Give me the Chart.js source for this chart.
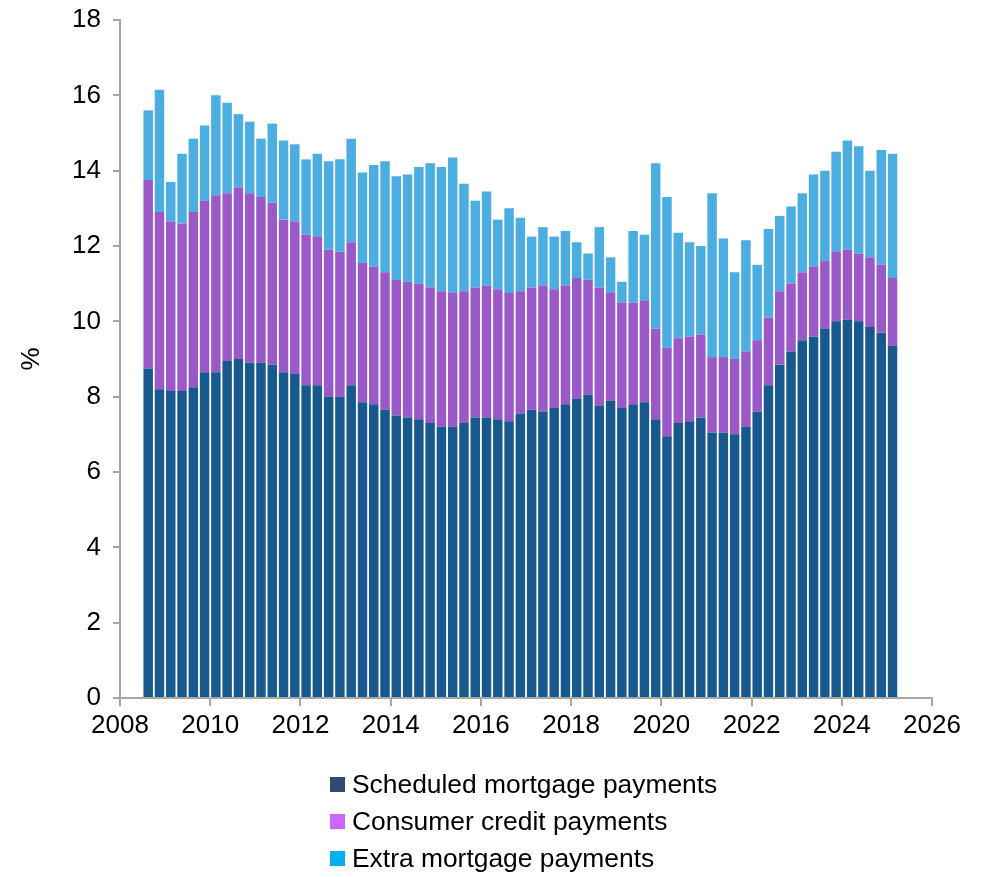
<!DOCTYPE html>
<html>
<head>
<meta charset="utf-8">
<script src="https://cdn.jsdelivr.net/npm/chart.js@4.4.1/dist/chart.umd.min.js"></script>
<style>
  body { margin: 0; background: #fff; font-family: "Liberation Sans", Arial, sans-serif; }
  #wrap { position: relative; width: 984px; height: 877px; }
  #legend { position: absolute; left: 330px; top: 766px; }
  .item { display: flex; align-items: center; height: 37px; font-size: 26.4px; color: #000; }
  .box { width: 15px; height: 15px; margin-right: 7px; }
</style>
</head>
<body>
<div id="wrap">
  <canvas id="chart" width="984" height="877"></canvas>
  <div id="legend"></div>
</div>
<script>
// quarterly, 2008 Q3 .. 2025 Q1
const quarters = [
  '2008 Q3','2008 Q4',
  '2009 Q1','2009 Q2','2009 Q3','2009 Q4',
  '2010 Q1','2010 Q2','2010 Q3','2010 Q4',
  '2011 Q1','2011 Q2','2011 Q3','2011 Q4',
  '2012 Q1','2012 Q2','2012 Q3','2012 Q4',
  '2013 Q1','2013 Q2','2013 Q3','2013 Q4',
  '2014 Q1','2014 Q2','2014 Q3','2014 Q4',
  '2015 Q1','2015 Q2','2015 Q3','2015 Q4',
  '2016 Q1','2016 Q2','2016 Q3','2016 Q4',
  '2017 Q1','2017 Q2','2017 Q3','2017 Q4',
  '2018 Q1','2018 Q2','2018 Q3','2018 Q4',
  '2019 Q1','2019 Q2','2019 Q3','2019 Q4',
  '2020 Q1','2020 Q2','2020 Q3','2020 Q4',
  '2021 Q1','2021 Q2','2021 Q3','2021 Q4',
  '2022 Q1','2022 Q2','2022 Q3','2022 Q4',
  '2023 Q1','2023 Q2','2023 Q3','2023 Q4',
  '2024 Q1','2024 Q2','2024 Q3','2024 Q4',
  '2025 Q1'
];

const scheduled = [
  8.75, 8.2,
  8.15, 8.15, 8.25, 8.65,
  8.65, 8.95, 9.0, 8.9,
  8.9, 8.85, 8.65, 8.6,
  8.3, 8.3, 8.0, 8.0,
  8.3, 7.85, 7.8, 7.65,
  7.5, 7.45, 7.4, 7.3,
  7.2, 7.2, 7.3, 7.45,
  7.45, 7.4, 7.35, 7.55,
  7.65, 7.6, 7.7, 7.8,
  7.95, 8.05, 7.75, 7.9,
  7.7, 7.8, 7.85, 7.4,
  6.95, 7.3, 7.35, 7.45,
  7.05, 7.05, 7.0, 7.2,
  7.6, 8.3, 8.85, 9.2,
  9.5, 9.6, 9.8, 10.0,
  10.05, 10.0, 9.85, 9.7,
  9.35
];

const consumer = [
  5.0, 4.7,
  4.5, 4.45, 4.65, 4.55,
  4.7, 4.45, 4.55, 4.5,
  4.4, 4.3, 4.05, 4.05,
  4.0, 3.95, 3.9, 3.85,
  3.8, 3.7, 3.65, 3.65,
  3.6, 3.6, 3.6, 3.6,
  3.6, 3.55, 3.5, 3.45,
  3.5, 3.45, 3.4, 3.25,
  3.25, 3.35, 3.15, 3.15,
  3.2, 3.05, 3.15, 2.85,
  2.8, 2.7, 2.7, 2.4,
  2.35, 2.25, 2.25, 2.2,
  2.0, 2.0, 2.0, 2.0,
  1.9, 1.8, 1.95, 1.8,
  1.8, 1.85, 1.8, 1.85,
  1.85, 1.8, 1.85, 1.8,
  1.8
];

const extra = [
  1.85, 3.25,
  1.05, 1.85, 1.95, 2.0,
  2.65, 2.4, 1.95, 1.9,
  1.55, 2.1, 2.1, 2.05,
  2.0, 2.2, 2.35, 2.45,
  2.75, 2.4, 2.7, 2.95,
  2.75, 2.85, 3.1, 3.3,
  3.3, 3.6, 2.85, 2.3,
  2.5, 1.85, 2.25, 1.95,
  1.35, 1.55, 1.4, 1.45,
  0.95, 0.7, 1.6, 0.95,
  0.55, 1.9, 1.75, 4.4,
  4.0, 2.8, 2.5, 2.35,
  4.35, 3.15, 2.3, 2.95,
  2.0, 2.35, 2.0, 2.05,
  2.1, 2.45, 2.4, 2.65,
  2.9, 2.85, 2.3, 3.05,
  3.3
];

const seriesNames = ['Scheduled mortgage payments', 'Consumer credit payments', 'Extra mortgage payments'];
const barColors = ['#17588d', '#9a58c8', '#4badE0'];
const keyColors = ['#2f4b73', '#cc66ff', '#00b0f0'];

// centre of each quarter on the year axis
function quarterMid(q) {
  const parts = q.split(' Q');
  return Number(parts[0]) + (Number(parts[1]) - 1) * 0.25 + 0.125;
}
function toPoints(vals) {
  return vals.map((v, i) => ({ x: quarterMid(quarters[i]), y: v }));
}

const font = { family: '"Liberation Sans", Arial, sans-serif', size: 26 };
const axisGrey = '#a6a6a6';

const chart = new Chart(document.getElementById('chart'), {
  type: 'bar',
  data: {
    datasets: [scheduled, consumer, extra].map((vals, k) => ({
      label: seriesNames[k],
      data: toPoints(vals),
      backgroundColor: barColors[k],
      barPercentage: 0.84,
      categoryPercentage: 1.0
    }))
  },
  options: {
    responsive: false,
    animation: false,
    layout: { padding: { top: 20, right: 52, bottom: 129, left: 0 } },
    plugins: { legend: { display: false }, tooltip: { enabled: false } },
    scales: {
      x: {
        type: 'linear',
        min: 2008,
        max: 2026,
        offset: false,
        stacked: true,
        ticks: { stepSize: 2, font: font, color: '#000', padding: 4, maxRotation: 0,
                 callback: v => String(v) },
        grid: { drawOnChartArea: false, offset: false, color: axisGrey, tickLength: 8, lineWidth: 2 },
        border: { color: axisGrey, width: 2 },
        afterFit: s => { s.height = 50; }
      },
      y: {
        stacked: true,
        min: 0,
        max: 18,
        ticks: { stepSize: 2, font: { family: font.family, size: 26, lineHeight: 0.8 }, color: '#000', padding: 12 },
        grid: { drawOnChartArea: false, color: axisGrey, tickLength: 7, lineWidth: 2 },
        border: { color: axisGrey, width: 2 },
        title: { display: true, text: '%', font: font, color: '#000', padding: { top: 16, bottom: 0 } },
        afterFit: s => { s.width = 120; s.paddingTop = 0; s.paddingBottom = 0; }
      }
    }
  }
});

// legend in one column under the chart
const legend = document.getElementById('legend');
seriesNames.forEach((name, k) => {
  const row = document.createElement('div');
  row.className = 'item';
  const box = document.createElement('span');
  box.className = 'box';
  box.style.background = keyColors[k];
  row.appendChild(box);
  row.appendChild(document.createTextNode(name));
  legend.appendChild(row);
});
</script>
</body>
</html>
